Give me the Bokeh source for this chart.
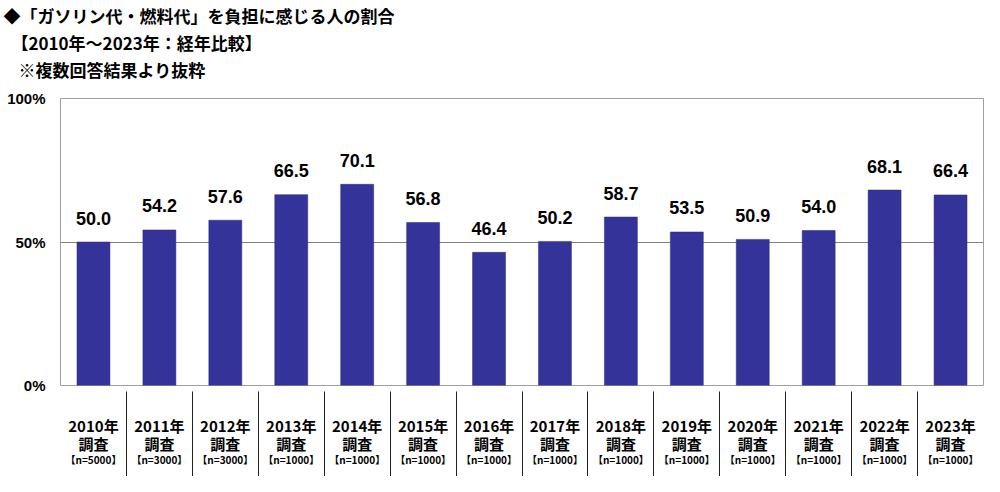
from bokeh.plotting import figure
from bokeh.models import Range1d, FixedTicker, LinearAxis, Title
from bokeh.core.properties import value
from bokeh.embed import file_html
from bokeh.resources import INLINE

# ---- data ----
years = ["2010年", "2011年", "2012年", "2013年", "2014年", "2015年", "2016年",
         "2017年", "2018年", "2019年", "2020年", "2021年", "2022年", "2023年"]
survey_word = "調査"
sample_sizes = ["【n=5000】", "【n=3000】", "【n=3000】", "【n=1000】", "【n=1000】",
                "【n=1000】", "【n=1000】", "【n=1000】", "【n=1000】", "【n=1000】",
                "【n=1000】", "【n=1000】", "【n=1000】", "【n=1000】"]
values = [50.0, 54.2, 57.6, 66.5, 70.1, 56.8, 46.4, 50.2, 58.7, 53.5, 50.9, 54.0, 68.1, 66.4]
y_ticks = [0, 50, 100]
y_tick_labels = ["0%", "50%", "100%"]
title_lines = ["◆「ガソリン代・燃料代」を負担に感じる人の割合",
               "【2010年～2023年：経年比較】",
               "※複数回答結果より抜粋"]

n = len(years)
xs = list(range(n))
boundaries = [i + 0.5 for i in range(n - 1)]
value_labels = [f"{v:.1f}" for v in values]

JP = "Noto Sans CJK JP"
LAT = "Liberation Sans"

p = figure(width=984, height=476, output_backend="svg", toolbar_location=None,
           x_range=Range1d(-0.5, n - 0.5), y_range=Range1d(0, 100),
           min_border_left=60, min_border_right=1, min_border_top=97, min_border_bottom=91)
p.background_fill_color = "white"
p.border_fill_color = "white"
p.outline_line_color = "#a0a0a0"
p.outline_line_width = 1

p.vbar(x=xs, top=values, width=0.5, bottom=0, fill_color="#333399", line_color="#2b2b85", line_width=0.5)
p.text(x=xs, y=values, text=value_labels, text_align="center", text_baseline="alphabetic",
       y_offset=-24, text_font=value(LAT), text_font_style="bold", text_font_size="18px",
       text_color="black")

# grid
p.xgrid.visible = False
p.ygrid.ticker = FixedTicker(ticks=[50])
p.ygrid.grid_line_color = "#808080"
p.ygrid.grid_line_width = 1

# y axis
ya = p.yaxis[0]
ya.ticker = FixedTicker(ticks=y_ticks)
ya.major_label_overrides = {t: l for t, l in zip(y_ticks, y_tick_labels)}
ya.axis_line_color = None
ya.major_tick_line_color = None
ya.minor_tick_line_color = None
ya.major_tick_in = 0
ya.major_tick_out = 0
ya.major_label_standoff = 15
ya.major_label_text_font = LAT
ya.major_label_text_font_style = "bold"
ya.major_label_text_font_size = "15px"
ya.major_label_text_color = "black"

# x axis: year + 調査, with category separators as minor ticks
xa = p.xaxis[0]
xa.ticker = FixedTicker(ticks=xs, minor_ticks=boundaries)
xa.major_label_overrides = {x: f"{y}\n{survey_word}" for x, y in zip(xs, years)}
xa.axis_line_color = None
xa.major_tick_line_color = None
xa.major_tick_in = 0
xa.major_tick_out = 0
xa.minor_tick_line_color = "#222222"
xa.minor_tick_line_width = 1
xa.minor_tick_in = -6
xa.minor_tick_out = 95
xa.major_label_standoff = -66
xa.major_label_text_font = JP
xa.major_label_text_font_style = "bold"
xa.major_label_text_font_size = "15px"
xa.major_label_text_line_height = 0.9
xa.major_label_text_color = "black"

xa2 = LinearAxis(ticker=FixedTicker(ticks=xs),
                 major_label_overrides={x: s for x, s in zip(xs, sample_sizes)})
xa2.axis_line_color = None
xa2.major_tick_line_color = None
xa2.minor_tick_line_color = None
xa2.major_tick_in = 0
xa2.major_tick_out = 0
xa2.major_label_standoff = -6
xa2.major_label_text_font = JP
xa2.major_label_text_font_style = "bold"
xa2.major_label_text_font_size = "10px"
xa2.major_label_text_color = "black"
p.add_layout(xa2, "below")

# spacer between the plot frame and the heading lines
p.add_layout(Title(text=" ", standoff=0, text_font=JP, text_font_size="10px"), "above")

# title lines: added nearest-first (last added sits on top)
title_offsets = [-57, -49, -42]
for i in [2, 1, 0]:
    p.add_layout(Title(text=title_lines[i], align="left", offset=title_offsets[i],
                       standoff=0, text_font=JP, text_font_style="bold",
                       text_font_size="17px", text_color="black"), "above")

open("out.html", "w").write(file_html(p, INLINE))
